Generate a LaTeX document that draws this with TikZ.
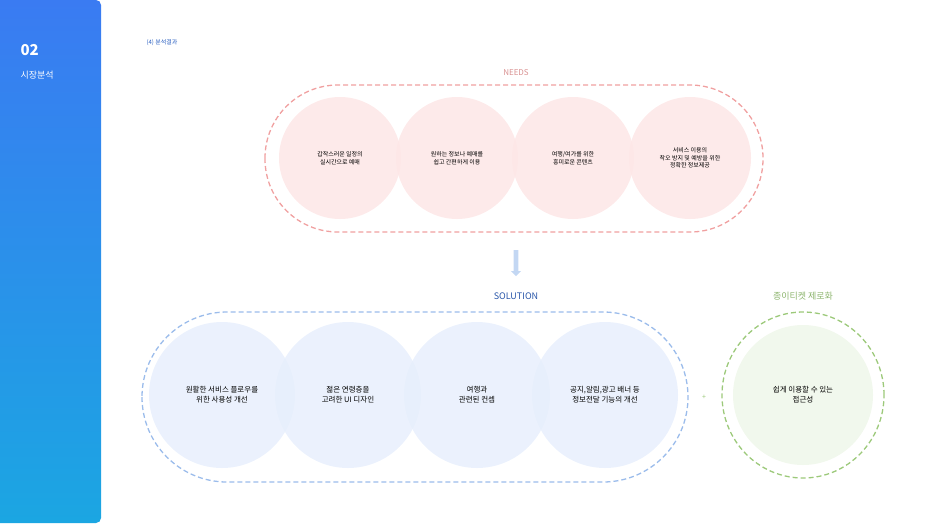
\documentclass[tikz,border=0pt]{standalone}
\usepackage{fontspec}
\setmainfont{Noto Sans CJK KR}
\usetikzlibrary{positioning,calc,shapes.arrows,shapes.geometric}
\definecolor{needred}{HTML}{F0A0A0}
\definecolor{needfill}{HTML}{FDE6E6}
\definecolor{solblue}{HTML}{9BBCEB}
\definecolor{solfill}{HTML}{E6EEFC}
\definecolor{zerogreen}{HTML}{9CC97A}
\definecolor{zerofill}{HTML}{EEF6E8}
\definecolor{sidetop}{HTML}{3A7BF2}
\definecolor{sidebot}{HTML}{1BA6E2}
\begin{document}
\begin{tikzpicture}[x=1pt,y=-1pt,
    % Node styles
    needcircle/.style={circle, fill=needfill, fill opacity=0.85, text opacity=1,
                       minimum size=122pt, align=center, font=\fontsize{6}{7.5}\selectfont},
    solcircle/.style={ellipse, fill=solfill, fill opacity=0.8, text opacity=1,
                      minimum width=146pt, minimum height=146pt, align=center,
                      font=\fontsize{7.5}{10}\selectfont},
    pill/.style={rounded corners=72pt, dashed, line width=1.3pt, dash pattern=on 5pt off 3pt},
    title/.style={font=\fontsize{8}{9}\selectfont}
]
\useasboundingbox (0,0) rectangle (933,523);

% Sidebar
\shade[top color=sidetop, bottom color=sidebot, rounded corners=5pt]
    (-10,0) rectangle (101,523);
\node[text=white, font=\bfseries\fontsize{15}{16}\selectfont, anchor=west] (num) at (17,50) {02};
\node[text=white, font=\fontsize{9}{10}\selectfont, anchor=west] (sect) at (17,75) {시장분석};
\node[text=sidetop!80!black, font=\fontsize{6}{7}\selectfont, anchor=west] (sub) at (143,43) {(4) 분석결과};

% Needs
\node[title, text=needred!90!black] (needs) at (516,73) {NEEDS};
\draw[pill, needred, rounded corners=73pt] (265,85) rectangle (763,232);
\node[needcircle] (n1) at (340,158) {갑작스러운 일정의\\실시간으로 예매};
\node[needcircle] (n2) at (457,158) {원하는 정보나 예매를\\쉽고 간편하게 이용};
\node[needcircle] (n3) at (573,158) {여행/여가를 위한\\흥미로운 콘텐츠};
\node[needcircle] (n4) at (690,158) {서비스 이용의\\착오 방지 및 예방을 위한\\정확한 정보제공};

% Arrow
\node[single arrow, shape border rotate=270, fill=solblue!60, minimum height=26pt,
      minimum width=10pt, single arrow head extend=2pt, inner sep=1.5pt] (down) at (516,262) {};

% Solution
\node[title, text=sidetop!70!black, font=\fontsize{9}{10}\selectfont] (sol) at (516,296) {SOLUTION};
\draw[pill, solblue, rounded corners=85pt] (142,312) rectangle (688,482);
\node[solcircle] (s1) at (222,395) {원활한 서비스 플로우를\\위한 사용성 개선};
\node[solcircle] (s2) at (348,395) {젊은 연령층을\\고려한 UI 디자인};
\node[solcircle] (s3) at (477,395) {여행과\\관련된 컨셉};
\node[solcircle] (s4) at (605,395) {공지,알림,광고 배너 등\\정보전달 기능의 개선};

% Zero paper ticket
\node[text=zerogreen, font=\fontsize{7}{8}\selectfont] (plus) at (704,397) {+};
\node[title, text=zerogreen!90!black, font=\fontsize{9}{10}\selectfont] (zero) at (803,296) {종이티켓 제로화};
\draw[zerogreen, dashed, line width=1.3pt, dash pattern=on 5pt off 3pt] (803,395) ellipse (81pt and 83pt);
\node[solcircle, fill=zerofill, minimum width=140pt, minimum height=140pt] (z1) at (803,395) {쉽게 이용할 수 있는\\접근성};
\end{tikzpicture}
\end{document}
